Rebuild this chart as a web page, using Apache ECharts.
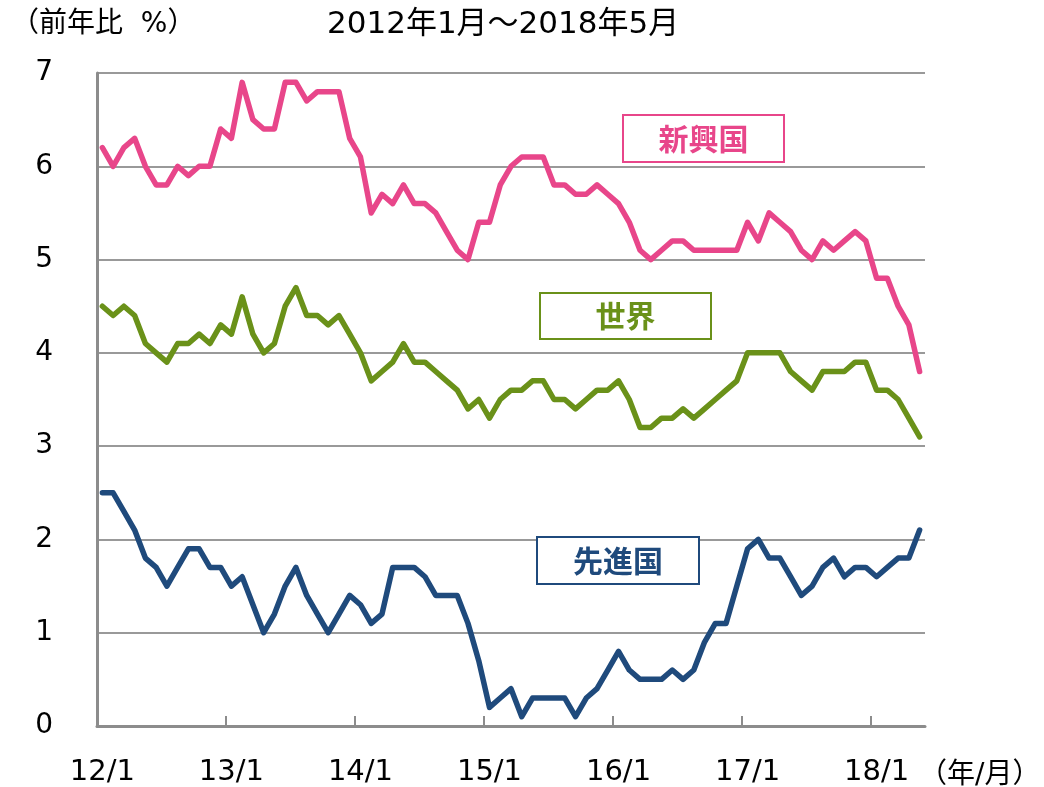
<!DOCTYPE html>
<html><head><meta charset="utf-8">
<script src="https://cdn.jsdelivr.net/npm/echarts@6/dist/echarts.min.js"></script>
<style>html,body{margin:0;padding:0;background:#fff}#c{width:1044px;height:787px}</style>
</head><body><div id="c"></div>
<script>
const categories = [
'12/1','12/2','12/3','12/4','12/5','12/6','12/7','12/8','12/9','12/10','12/11','12/12',
'13/1','13/2','13/3','13/4','13/5','13/6','13/7','13/8','13/9','13/10','13/11','13/12',
'14/1','14/2','14/3','14/4','14/5','14/6','14/7','14/8','14/9','14/10','14/11','14/12',
'15/1','15/2','15/3','15/4','15/5','15/6','15/7','15/8','15/9','15/10','15/11','15/12',
'16/1','16/2','16/3','16/4','16/5','16/6','16/7','16/8','16/9','16/10','16/11','16/12',
'17/1','17/2','17/3','17/4','17/5','17/6','17/7','17/8','17/9','17/10','17/11','17/12',
'18/1','18/2','18/3','18/4','18/5'];
const emerging = [6.2,6.0,6.2,6.3,6.0,5.8,5.8,6.0,5.9,6.0,6.0,6.4,
6.3,6.9,6.5,6.4,6.4,6.9,6.9,6.7,6.8,6.8,6.8,6.3,
6.1,5.5,5.7,5.6,5.8,5.6,5.6,5.5,5.3,5.1,5.0,5.4,
5.4,5.8,6.0,6.1,6.1,6.1,5.8,5.8,5.7,5.7,5.8,5.7,
5.6,5.4,5.1,5.0,5.1,5.2,5.2,5.1,5.1,5.1,5.1,5.1,
5.4,5.2,5.5,5.4,5.3,5.1,5.0,5.2,5.1,5.2,5.3,5.2,
4.8,4.8,4.5,4.3,3.8];
const world = [4.5,4.4,4.5,4.4,4.1,4.0,3.9,4.1,4.1,4.2,4.1,4.3,
4.2,4.6,4.2,4.0,4.1,4.5,4.7,4.4,4.4,4.3,4.4,4.2,
4.0,3.7,3.8,3.9,4.1,3.9,3.9,3.8,3.7,3.6,3.4,3.5,
3.3,3.5,3.6,3.6,3.7,3.7,3.5,3.5,3.4,3.5,3.6,3.6,
3.7,3.5,3.2,3.2,3.3,3.3,3.4,3.3,3.4,3.5,3.6,3.7,
4.0,4.0,4.0,4.0,3.8,3.7,3.6,3.8,3.8,3.8,3.9,3.9,
3.6,3.6,3.5,3.3,3.1];
const advanced = [2.5,2.5,2.3,2.1,1.8,1.7,1.5,1.7,1.9,1.9,1.7,1.7,
1.5,1.6,1.3,1.0,1.2,1.5,1.7,1.4,1.2,1.0,1.2,1.4,
1.3,1.1,1.2,1.7,1.7,1.7,1.6,1.4,1.4,1.4,1.1,0.7,
0.2,0.3,0.4,0.1,0.3,0.3,0.3,0.3,0.1,0.3,0.4,0.6,
0.8,0.6,0.5,0.5,0.5,0.6,0.5,0.6,0.9,1.1,1.1,1.5,
1.9,2.0,1.8,1.8,1.6,1.4,1.5,1.7,1.8,1.6,1.7,1.7,
1.6,1.7,1.8,1.8,2.1];
const seriesNames = ['新興国','世界','先進国'];
const colors = ['#E8468A','#6A9119','#1F4A7C'];
const yTicks = [0,1,2,3,4,5,6,7];
const yearStartIdx = [0,12,24,36,48,60,72];

const FONT = "'DejaVu Sans','Noto Sans CJK JP',sans-serif";
const chart = echarts.init(document.getElementById('c'));
function box(cx, cy, w, h, label, color){
  return {type:'group', children:[
    {type:'rect', shape:{x:cx-w/2, y:cy-h/2, width:w, height:h}, style:{fill:'#fff', stroke:color, lineWidth:2}, z:10},
    {type:'text', x:cx, y:cy, style:{text:label, fill:color, font:"bold 30px 'Noto Sans CJK JP'", textAlign:'center', textVerticalAlign:'middle'}, z:11}
  ]};
}
chart.setOption({
  animation:false,
  backgroundColor:'#fff',
  grid:{left:97, right:119, top:73, bottom:61, containLabel:false},
  xAxis:[
    {type:'category', data:categories, boundaryGap:true,
      axisLine:{lineStyle:{color:'#8c8c8c', width:3}},
      axisTick:{show:false},
      axisLabel:{interval:11, fontSize:29, color:'#000', fontFamily:FONT, margin:32},
      splitLine:{show:false}},
    {type:'value', min:0, max:categories.length, position:'bottom',
      axisLine:{show:false}, axisLabel:{show:false}, splitLine:{show:false},
      axisTick:{show:true, inside:true, length:10, customValues:yearStartIdx, lineStyle:{color:'#8c8c8c', width:2}}}
  ],
  yAxis:{type:'value', min:yTicks[0], max:yTicks[yTicks.length-1], interval:1,
    axisLine:{show:true, lineStyle:{color:'#8c8c8c', width:3}},
    axisTick:{show:false},
    axisLabel:{fontSize:28, color:'#000', fontFamily:FONT, margin:44},
    splitLine:{show:true, lineStyle:{color:'#999', width:2}}},
  title:[
    {text:'（前年比  %）', left:6, top:6, textStyle:{fontSize:28, fontWeight:'normal', color:'#000', fontFamily:FONT}},
    {text:'2012年1月～2018年5月', left:322, top:4, textStyle:{fontSize:31, fontWeight:'normal', color:'#000', fontFamily:FONT}},
    {text:'（年/月）', left:914, top:757, textStyle:{fontSize:28, fontWeight:'normal', color:'#000', fontFamily:FONT}}
  ],
  series:[
    {name:seriesNames[0], type:'line', data:emerging, symbol:'none', lineStyle:{width:5.5, color:colors[0], join:'round', cap:'round'}, itemStyle:{color:colors[0]}},
    {name:seriesNames[1], type:'line', data:world, symbol:'none', lineStyle:{width:5.5, color:colors[1], join:'round', cap:'round'}, itemStyle:{color:colors[1]}},
    {name:seriesNames[2], type:'line', data:advanced, symbol:'none', lineStyle:{width:5.5, color:colors[2], join:'round', cap:'round'}, itemStyle:{color:colors[2]}}
  ],
  graphic:[
    box(703.5, 138.5, 161, 47, seriesNames[0], colors[0]),
    box(625.5, 316, 171, 46, seriesNames[1], colors[1]),
    box(618, 560.5, 162, 47, seriesNames[2], colors[2])
  ]
});
</script></body></html>
